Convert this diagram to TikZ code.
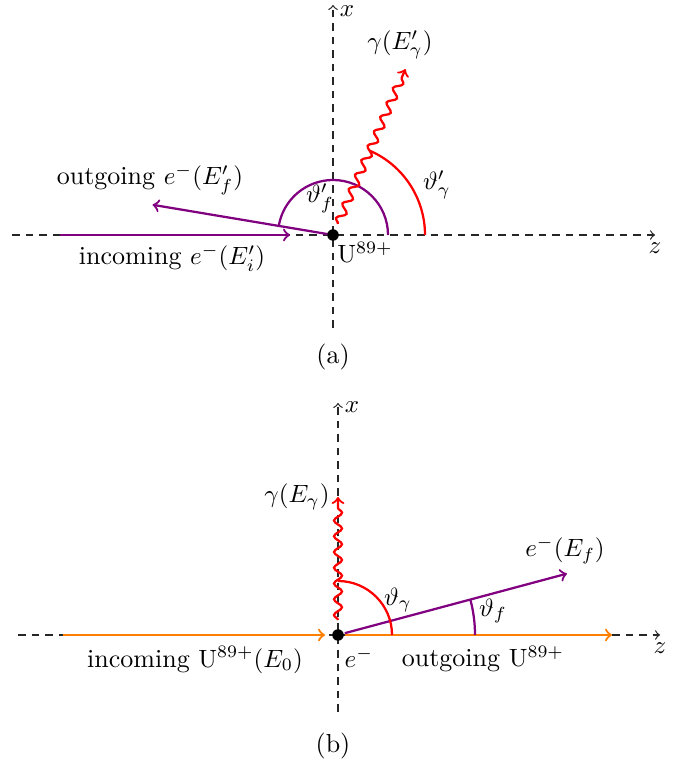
\documentclass[tikz,border=0pt]{standalone}
\usetikzlibrary{decorations.pathmorphing,calc}
\definecolor{myviolet}{rgb}{0.5,0,0.5}
\definecolor{myorange}{rgb}{1,0.5,0}
\begin{document}
\begin{tikzpicture}[x=0.4pt,y=0.4pt,
  axis/.style={dash pattern=on 3pt off 2.4pt,->,line width=0.5pt,black!85},
  elec/.style={myviolet,line width=0.9pt},
  ion/.style={myorange,line width=0.9pt},
  phot/.style={red,line width=0.9pt,->,decorate,decoration={snake,amplitude=1.6pt,segment length=6.3pt,post length=3pt}},
  dot/.style={circle,fill=black,inner sep=0pt,minimum size=4.6pt},
  lbl/.style={inner sep=1pt,font=\fontsize{10.4}{12.5}\selectfont}]
\useasboundingbox (0,0) rectangle (690,765);
% ---------- (a) ----------
\coordinate (O1) at (333,530);
\coordinate (zL1) at (12,530);
\coordinate (zR1) at (655,530);
\coordinate (xB1) at (333,437);
\coordinate (xT1) at (333,760);
\draw[axis] (zL1) -- (zR1);
\draw[axis] (xB1) -- (xT1);
\node[lbl] (xa) at (347,754) {$x$};
\node[lbl] (za) at (655,517) {$z$};
\coordinate (inA) at (60,530);
\coordinate (inB) at (290,530);
\draw[elec,->] (inA) -- (inB);
\coordinate (outA) at ($(O1)+(170.5:4)$);
\coordinate (outB) at ($(O1)+(170.5:183)$);
\draw[elec,->] (outA) -- (outB);
\draw[elec] ($(O1)+(55,0)$) arc[start angle=0,end angle=170.5,radius=55];
\coordinate (phA) at ($(O1)+(66.4:12)$);
\coordinate (phB) at ($(O1)+(66.4:181)$);
\draw[phot] (phA) -- (phB);
\draw[red,line width=0.9pt] ($(O1)+(92,0)$) arc[start angle=0,end angle=66.4,radius=92];
\node[dot] (nucA) at (O1) {};
\node[lbl] (thfA) at (320,567) {$\vartheta'_f$};
\node[lbl] (thgA) at (437,580) {$\vartheta'_\gamma$};
\node[lbl] (gA) at (400,720) {$\gamma(E'_\gamma)$};
\node[lbl] (outlA) at (150,585) {outgoing\ $e^-(E'_f)$};
\node[lbl] (inlA) at (172,507) {incoming\ $e^-(E'_i)$};
\node[lbl] (UA) at (365,513) {$\mathrm{U}^{89+}$};
\node[lbl] (capA) at (333,408) {(a)};
% ---------- (b) ----------
\coordinate (O2) at (338,130);
\coordinate (zL2) at (18,130);
\coordinate (zR2) at (660,130);
\coordinate (xB2) at (338,53);
\coordinate (xT2) at (338,362);
\draw[axis] (zL2) -- (zR2);
\draw[axis] (xB2) -- (xT2);
\node[lbl] (xb) at (352,358) {$x$};
\node[lbl] (zb) at (660,117) {$z$};
\coordinate (ionA) at (63,130);
\coordinate (ionB) at (325,130);
\draw[ion,->] (ionA) -- (ionB);
\coordinate (ionC) at (345,130);
\coordinate (ionD) at (612,130);
\draw[ion,->] (ionC) -- (ionD);
\coordinate (eA) at ($(O2)+(15:7)$);
\coordinate (eB) at ($(O2)+(15:237)$);
\draw[elec,->] (eA) -- (eB);
\draw[elec] ($(O2)+(137,0)$) arc[start angle=0,end angle=15,radius=137];
\coordinate (pbA) at ($(O2)+(0,15)$);
\coordinate (pbB) at ($(O2)+(0,138)$);
\draw[phot] (pbA) -- (pbB);
\draw[red,line width=0.9pt] ($(O2)+(54,0)$) arc[start angle=0,end angle=90,radius=54];
\node[dot] (nucB) at (O2) {};
\node[lbl] (gB) at (297,268) {$\gamma(E_\gamma)$};
\node[lbl] (efB) at (565,215) {$e^-(E_f)$};
\node[lbl] (thgB) at (398,165) {$\vartheta_\gamma$};
\node[lbl] (thfB) at (493,154) {$\vartheta_f$};
\node[lbl] (eB2) at (359,107) {$e^-$};
\node[lbl] (inlB) at (195,105) {incoming\ $\mathrm{U}^{89+}(E_0)$};
\node[lbl] (outlB) at (483,106) {outgoing\ $\mathrm{U}^{89+}$};
\node[lbl] (capB) at (333,19) {(b)};
\end{tikzpicture}
\end{document}
